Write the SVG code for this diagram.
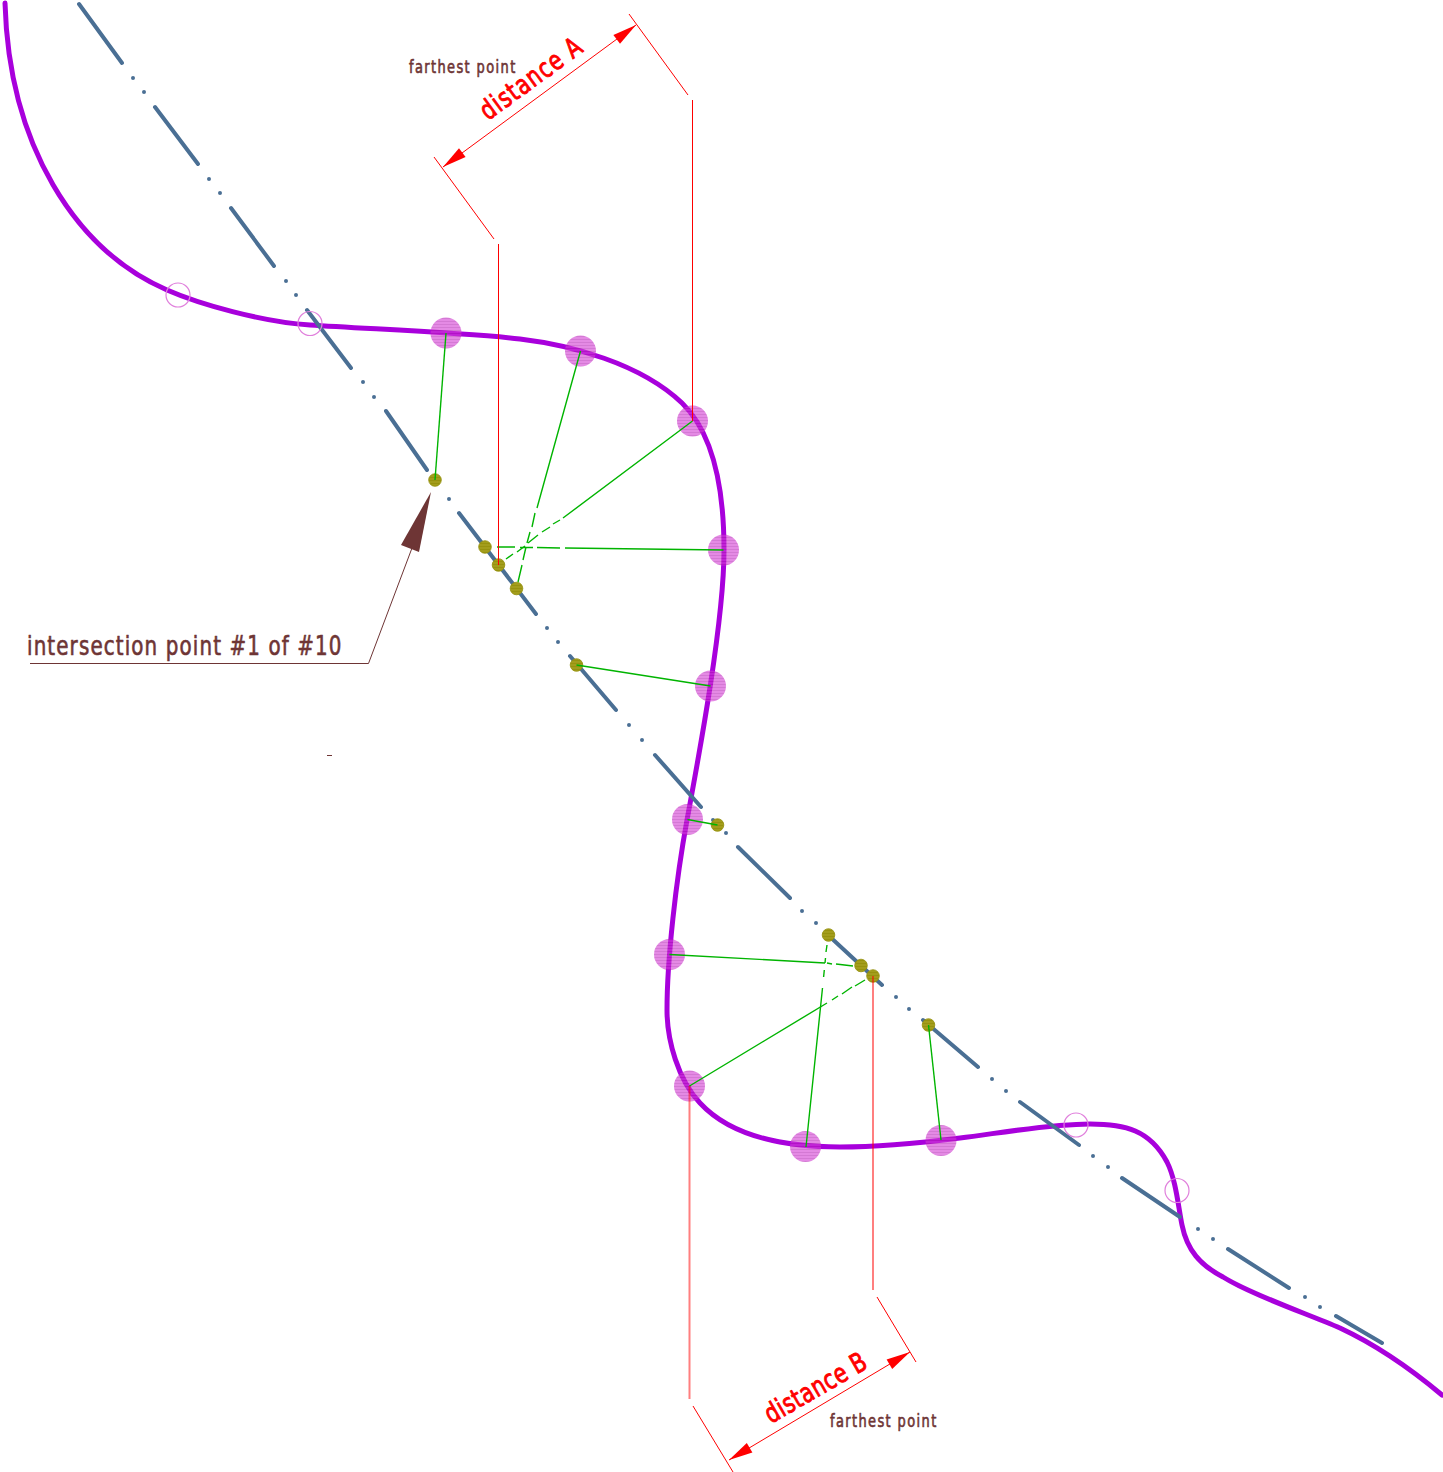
<svg xmlns="http://www.w3.org/2000/svg" width="1443" height="1472" viewBox="0 0 1443 1472">
<style>
.curve{fill:none;stroke:#a800dc;stroke-width:5;stroke-linecap:round;stroke-linejoin:round}
.axis{fill:none;stroke:#4a6f94;stroke-width:4;stroke-linecap:round}
.pt{fill:url(#hatchP);opacity:.6}
.open{fill:none;stroke:#e080dc;stroke-width:1.2}
.ol{fill:url(#hatchO);stroke:#94900c;stroke-width:.8}
.g{fill:none;stroke:#00b400;stroke-width:1.4}
.r{fill:none;stroke:#ff0000;stroke-width:1}
.rp{fill:none;stroke:#ff0000;stroke-width:2;opacity:.5}
.ra{fill:#ff0000}
.br{fill:none;stroke:#6e3535;stroke-width:1}
.t{font-family:"Liberation Sans Narrow","DejaVu Sans Condensed","DejaVu Sans",sans-serif;stroke-linejoin:round}
.tb{fill:#6e3535;stroke:#6e3535;stroke-width:.6}
.tr{fill:#ff0000;stroke:#ff0000;stroke-width:.9;font-size:27px}
</style>
<defs>
<pattern id="hatchP" width="4" height="3" patternUnits="userSpaceOnUse"><rect width="4" height="3" fill="#d23cd2"/><rect width="4" height="1" fill="#b820b8"/></pattern>
<pattern id="hatchO" width="4" height="3" patternUnits="userSpaceOnUse"><rect width="4" height="3" fill="#a39d1c"/><rect width="4" height="1" fill="#97920f"/></pattern>
</defs>
<rect width="1443" height="1472" fill="#ffffff"/>
<g id="curve">
<path class="curve" d="M5,3C9,145 75,250 167,290C199,304 262,322 310,325C370,329 470,333 520,339C570,345 640,363 682,403C714,434 724,490 724,550C724,620 700,750 687,820C676,880 667,960 667,1010C667,1040 678,1080 700,1103C725,1130 770,1147 840,1147C880,1147 920,1143 960,1138C1000,1133 1050,1124 1090,1124C1125,1124 1150,1130 1167,1162C1176,1180 1178,1205 1182,1225C1187,1250 1200,1265 1223,1277C1250,1294 1305,1313 1340,1328C1370,1342 1405,1364 1442,1395"/>
</g>
<g id="axis">
<path class="axis" d="M79,4L122,63M133,78h0M144,92h0M155,107L198,164M209,179h0M220,193h0M231,208L274,266M286,281h0M296,295h0M307,310L351,368M363,382h0M374,397h0M386,411L427,470M437,483h0M449,499h0M459,513L536,614M547,628h0M558,642h0M570,656L616,710M629,725h0M642,740h0M655,755L701,807M713,820h0M726,833h0M738,847L790,898M802,911h0M816,923h0M828,935L882,985M896,997h0M909,1009h0M923,1020L978,1067M992,1079h0M1006,1091h0M1020,1102L1079,1145M1093,1156h0M1108,1167h0M1122,1178L1180,1217M1198,1229h0M1213,1239h0M1228,1249L1289,1288M1305,1297h0M1320,1307h0M1336,1316L1382,1343"/>
</g>
<g id="sample-points">
<circle id="p1" class="pt" cx="446" cy="333" r="15.500"/>
<circle id="p2" class="pt" cx="580.500" cy="351" r="15.500"/>
<circle id="p3" class="pt" cx="692.500" cy="421" r="15.500"/>
<circle id="p4" class="pt" cx="723.500" cy="550" r="15.500"/>
<circle id="p5" class="pt" cx="710.500" cy="686" r="15.500"/>
<circle id="p6" class="pt" cx="687.500" cy="819.500" r="15.500"/>
<circle id="p7" class="pt" cx="669.500" cy="954.500" r="15.500"/>
<circle id="p8" class="pt" cx="689.500" cy="1086" r="15.500"/>
<circle id="p9" class="pt" cx="805.500" cy="1146.500" r="15.500"/>
<circle id="p10" class="pt" cx="941" cy="1140.500" r="15.500"/>
</g>
<g id="open-points">
<circle id="o1" class="open" cx="178" cy="295" r="12"/>
<circle id="o2" class="open" cx="310" cy="323.500" r="12"/>
<circle id="o3" class="open" cx="1076" cy="1125" r="12"/>
<circle id="o4" class="open" cx="1177" cy="1190.500" r="12"/>
</g>
<g id="foot-points">
<circle id="f1" class="ol" cx="435" cy="480" r="6.300"/>
<circle id="f2" class="ol" cx="485" cy="547" r="6.300"/>
<circle id="f3" class="ol" cx="498.500" cy="565" r="6.300"/>
<circle id="f4" class="ol" cx="516.500" cy="588.500" r="6.300"/>
<circle id="f5" class="ol" cx="576.500" cy="665" r="6.300"/>
<circle id="f6" class="ol" cx="717.500" cy="825" r="6.300"/>
<circle id="f7" class="ol" cx="828.500" cy="935" r="6.300"/>
<circle id="f8" class="ol" cx="861" cy="965.500" r="6.300"/>
<circle id="f9" class="ol" cx="873" cy="976" r="6.300"/>
<circle id="f10" class="ol" cx="928.500" cy="1025" r="6.300"/>
</g>
<g id="connectors">
<path class="g" d="M446,333L435,480"/>
<path class="g" d="M580.500,351L537,508M535,513L532,527M530,532L527,543M526,547L523,560M522,565L518,582"/>
<path class="g" d="M692.500,421L563,518M560,520L553,524M550,527L542,532M538,535L528,543M525,546L517,552M513,554L506,559"/>
<path class="g" d="M723.500,550L565,548M560,548L537,547.500M533,547.500L520,547.500M515,547L497,547"/>
<path class="g" d="M710.500,686L576.500,665"/>
<path class="g" d="M687.500,819.500L717.500,825"/>
<path class="g" d="M669.500,954.500L825,963M827,963L832,964M836,964L853,966"/>
<path class="g" d="M689.500,1086L827,1003M832,1000L838,996M842,994L852,987M855,986L865,980"/>
<path class="g" d="M806,1147L822.500,988M823.600,977L824.300,970M825,963L825.500,958M826,952L827,945"/>
<path class="g" d="M928.500,1025L941,1140"/>
</g>
<g id="dimension-a">
<path class="r" d="M498.500,244V565M692.500,100V421M629,14L688,95M434,157L494,239M443,167L636,25"/>
<polygon class="ra" points="636,25 620,43.700 613.400,34.900"/>
<polygon class="ra" points="443,167 465.600,157.100 459,148.300"/>
<text class="t tr" transform="translate(488,121) rotate(-36) scale(.85,1)" textLength="140">distance A</text>
</g>
<g id="dimension-b">
<path class="rp" d="M689.500,1086V1399M873,976V1290"/>
<path class="r" d="M693,1406L733,1472M877,1297L916,1362M729,1460L910,1352"/>
<polygon class="ra" points="910,1352 892.200,1369 886.600,1359.600"/>
<polygon class="ra" points="729,1460 752.400,1452.400 746.800,1443"/>
<text class="t tr" transform="translate(771,1424) rotate(-30) scale(.85,1)" textLength="133">distance B</text>
</g>
<g id="labels">
<path class="br" d="M30,663.500H368.500L412,548"/>
<polygon fill="#6e3535" points="431,492 401,545 419,552"/>
<path class="br" d="M327,755.500H332"/>
<text class="t tb" transform="translate(27,655) scale(.85,1)" font-size="26" textLength="370">intersection point #1 of #10</text>
<text class="t tb" transform="translate(409,73) scale(.85,1)" font-size="17" textLength="125">farthest point</text>
<text class="t tb" transform="translate(830,1427) scale(.85,1)" font-size="17" textLength="125">farthest point</text>
</g>
</svg>
